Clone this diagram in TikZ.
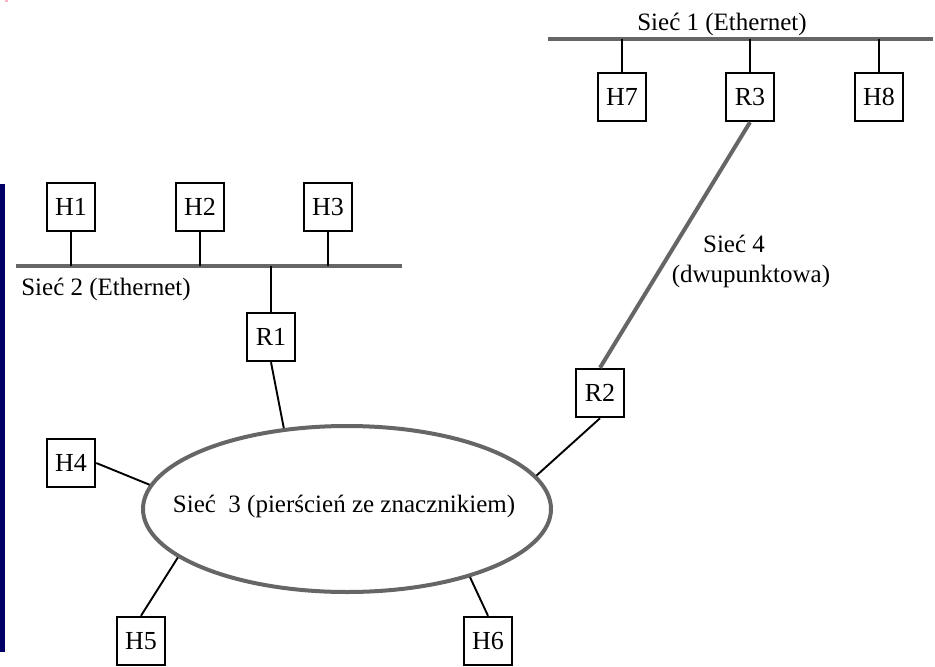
\documentclass[tikz,border=0pt]{standalone}
\usepackage{fontspec}
\setmainfont{Liberation Serif}
\usetikzlibrary{shapes.geometric}
\definecolor{busgray}{RGB}{102,102,102}
\definecolor{barnavy}{RGB}{0,0,102}
\definecolor{specpink}{RGB}{255,180,195}
\begin{document}
\begin{tikzpicture}[x=1pt,y=-1pt,
  station/.style={draw=black, line width=2pt, minimum size=48.5pt, inner sep=0pt,
                  fill=white, font=\fontsize{26}{30}\selectfont},
  bus/.style={draw=busgray, line width=4pt},
  link/.style={draw=black, line width=1.9pt},
  netlabel/.style={inner sep=0pt, font=\fontsize{25}{30}\selectfont}]
\useasboundingbox (0,0) rectangle (935,667);

% side bar and corner mark
\fill[barnavy] (0,184) rectangle (4.5,652);
\fill[specpink] (5,0) rectangle (8,1.5);

% network 1 (Ethernet)
\coordinate (busAw) at (548,39);
\coordinate (busAe) at (933,39);
\draw[bus] (busAw) -- (busAe);
\node[netlabel] (labA) at (722,24.5) {Sieć 1 (Ethernet)};
\node[station] (H7) at (622,97) {H7};
\node[station] (R3) at (750,97) {R3};
\node[station] (H8) at (879,97) {H8};
\foreach \n in {H7,R3,H8} \draw[link] (\n.north) -- (\n.north |- busAw);

% network 2 (Ethernet)
\coordinate (busBw) at (16,266);
\coordinate (busBe) at (402,266);
\draw[bus] (busBw) -- (busBe);
\node[netlabel] (labB) at (106,289.5) {Sieć 2 (Ethernet)};
\node[station] (H1) at (71,207) {H1};
\node[station] (H2) at (200,207) {H2};
\node[station] (H3) at (328,207) {H3};
\node[station] (R1) at (271,337) {R1};
\foreach \n in {H1,H2,H3} \draw[link] (\n.south) -- (\n.south |- busBw);
\draw[link] (R1.north) -- (R1.north |- busBw);

% network 3 (token ring)
\node[ellipse, draw=busgray, line width=4pt, minimum width=408pt, minimum height=166pt,
      inner sep=0pt] (ring) at (347,509) {};
\node[netlabel] (labC) at (344,506) {Sieć\ \ 3 (pierścień ze znacznikiem)};
\node[station] (R2) at (600,393) {R2};
\node[station] (H4) at (71,463) {H4};
\node[station] (H5) at (141,641) {H5};
\node[station] (H6) at (488,641) {H6};
\draw[link] (R1.south) -- (ring.128);
\draw[link] (R2.south) -- (ring.10);
\draw[link] (H4.east) -- (ring.173);
\draw[link] (H5.north) -- (ring.196);
\draw[link] (H6.north) -- (ring.331);

% network 4 (point-to-point)
\draw[bus] (R3.south) -- (R2.north);
\node[netlabel] (labD1) at (734,244) {Sieć 4};
\node[netlabel] (labD2) at (751,276) {(dwupunktowa)};
\end{tikzpicture}
\end{document}
